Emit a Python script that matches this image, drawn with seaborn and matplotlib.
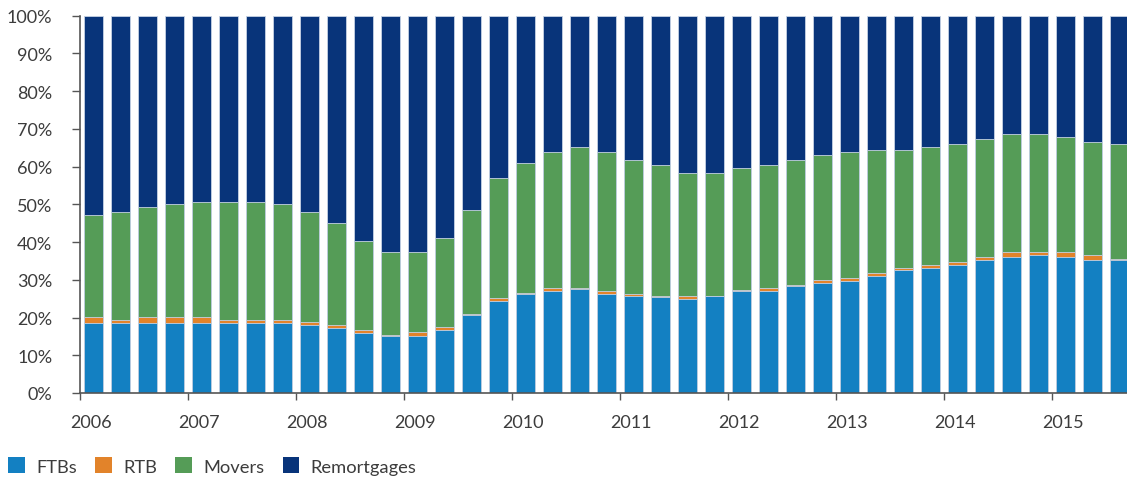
import numpy as np
import pandas as pd
import matplotlib
matplotlib.use("Agg")
import matplotlib.pyplot as plt
from matplotlib.patches import Patch
import seaborn as sns

# quarterly shares (%) of lending, 2006 Q1 - 2015 Q3
years = [str(y) for y in range(2006, 2016)]
quarters = [f"{y} Q{q}" for y in range(2006, 2016) for q in range(1, 5)][:39]

ftbs = [18.6, 18.6, 18.6, 18.6, 18.6, 18.6, 18.6, 18.6, 18.1, 17.3,
        16.0, 15.2, 15.2, 16.7, 20.8, 24.3, 26.3, 27.1, 27.6, 26.3,
        25.7, 25.5, 25.0, 25.6, 27.1, 27.1, 28.4, 29.2, 29.8, 31.1,
        32.6, 33.2, 34.0, 35.3, 36.0, 36.7, 36.0, 35.3, 35.3]
rtb = [1.5, 0.8, 1.5, 1.5, 1.5, 0.8, 0.8, 0.8, 0.7, 0.8,
       0.7, 0.2, 0.9, 0.7, 0.2, 0.8, 0.3, 0.7, 0.2, 0.8,
       0.6, 0.2, 0.7, 0.2, 0.2, 0.7, 0.2, 0.7, 0.7, 0.8,
       0.6, 0.8, 0.6, 0.7, 1.4, 0.7, 1.4, 1.4, 0.2]
movers = [27.1, 28.5, 29.2, 29.9, 30.5, 31.2, 31.2, 30.6, 29.1, 27.0,
          23.6, 22.1, 21.4, 23.6, 27.6, 31.9, 34.4, 36.1, 37.4, 36.8,
          35.5, 34.6, 32.5, 32.4, 32.3, 32.5, 33.2, 33.2, 33.3, 32.6,
          31.3, 31.2, 31.3, 31.2, 31.2, 31.2, 30.5, 29.8, 30.4]
remortgages = [52.8, 52.1, 50.7, 50.0, 49.4, 49.4, 49.4, 50.0, 52.1, 54.9,
               59.7, 62.5, 62.5, 59.0, 51.4, 43.0, 39.0, 36.1, 34.8, 36.1,
               38.2, 39.7, 41.8, 41.8, 40.4, 39.7, 38.2, 36.9, 36.2, 35.5,
               35.5, 34.8, 34.1, 32.8, 31.4, 31.4, 32.1, 33.5, 34.1]

series = ["FTBs", "RTB", "Movers", "Remortgages"]
colors = ["#1380c2", "#e2832a", "#559c57", "#08347a"]

df = pd.DataFrame({"quarter": quarters, "FTBs": ftbs, "RTB": rtb,
                   "Movers": movers, "Remortgages": remortgages})
cum = df[series].cumsum(axis=1)
cum["quarter"] = df["quarter"]

sns.set_style("white")
plt.rcParams["font.family"] = ["Lato", "DejaVu Sans"]
text_col = "#3c3c3c"

fig = plt.figure(figsize=(11.27, 4.81), dpi=100)
ax = fig.add_axes([80 / 1127, 87 / 481, 1053 / 1127, 377.3 / 481])

# draw tallest stack first so lower segments sit on top
for name, col in reversed(list(zip(series, colors))):
    sns.barplot(data=cum, x="quarter", y=name, order=quarters, color=col,
                width=0.67, edgecolor="#c5d2e4", linewidth=0.6, ax=ax,
                saturation=1)

ax.set_xlim(-0.5, 38.5)
ax.set_ylim(0, 100)
ax.set_yticks(np.arange(0, 101, 10))
ax.set_yticklabels([f"{v}%" for v in range(0, 101, 10)])
ax.set_xticks(np.arange(-0.5, 38.5, 4))
ax.set_xticklabels([])
ax.set_xticks(np.arange(-0.5, 38.5, 4) + 0.42, minor=True)
ax.set_xticklabels(years, minor=True)
ax.set_xlabel("")
ax.set_ylabel("")

ax.tick_params(axis="y", which="major", length=6, width=1, color="#555555",
               pad=14, labelsize=13, labelcolor=text_col, left=True)
ax.tick_params(axis="x", which="major", length=5, width=1, color="#555555",
               bottom=True)
ax.tick_params(axis="x", which="minor", length=0, pad=15, labelsize=13,
               labelcolor=text_col)

for s in ["top", "right"]:
    ax.spines[s].set_visible(False)
for s in ["left", "bottom"]:
    ax.spines[s].set_color("#555555")
    ax.spines[s].set_linewidth(1.2)

handles = [Patch(facecolor=c, edgecolor="none", label=n)
           for n, c in zip(series, colors)]
fig.legend(handles=handles, loc="center left", bbox_to_anchor=(0.004, 14 / 481),
           ncol=4, frameon=False, fontsize=13.2, handlelength=0.92,
           handleheight=0.92, handletextpad=0.6, columnspacing=1.0,
           labelcolor=text_col, borderaxespad=0, borderpad=0.2)

fig.savefig("out.png", dpi=100)
